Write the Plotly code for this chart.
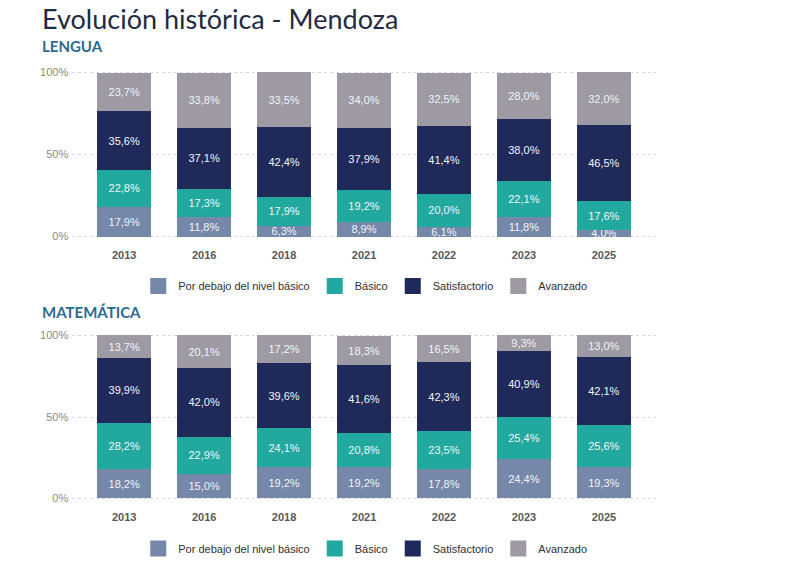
import plotly.graph_objects as go

years = ["2013", "2016", "2018", "2021", "2022", "2023", "2025"]
levels = ["Por debajo del nivel básico", "Básico", "Satisfactorio", "Avanzado"]
colors = ["#7588aa", "#22a99f", "#1f2a5a", "#9d9aa3"]

lengua_debajo = [17.9, 11.8, 6.3, 8.9, 6.1, 11.8, 4.0]
lengua_basico = [22.8, 17.3, 17.9, 19.2, 20.0, 22.1, 17.6]
lengua_satisf = [35.6, 37.1, 42.4, 37.9, 41.4, 38.0, 46.5]
lengua_avanz = [23.7, 33.8, 33.5, 34.0, 32.5, 28.0, 32.0]

mate_debajo = [18.2, 15.0, 19.2, 19.2, 17.8, 24.4, 19.3]
mate_basico = [28.2, 22.9, 24.1, 20.8, 23.5, 25.4, 25.6]
mate_satisf = [39.9, 42.0, 39.6, 41.6, 42.3, 40.9, 42.1]
mate_avanz = [13.7, 20.1, 17.2, 18.3, 16.5, 9.3, 13.0]

y_ticks = [0, 50, 100]
y_ticklabels = ["0%", "50%", "100%"]

def fmt(v):
    return f"{v:.1f}%".replace(".", ",")

fig = go.Figure()

groups = [
    ([lengua_debajo, lengua_basico, lengua_satisf, lengua_avanz], "x", "y", "legend", "L"),
    ([mate_debajo, mate_basico, mate_satisf, mate_avanz], "x2", "y2", "legend2", "M"),
]
for series, xa, ya, lg, key in groups:
    for name, vals, col in zip(levels, series, colors):
        fig.add_trace(go.Bar(
            x=years, y=vals, name=name, marker=dict(color=col, line=dict(width=0)),
            text=[fmt(v) for v in vals], textposition="inside", insidetextanchor="middle",
            constraintext="none", textangle=0,
            textfont=dict(color="#f2f2f6", size=11, family="Liberation Sans"),
            xaxis=xa, yaxis=ya, legendgroup=key + name, showlegend=False,
            width=0.68, hoverinfo="skip",
        ))
    # legend entries with larger square swatches (no visible data)
    for name, col in zip(levels, colors):
        fig.add_trace(go.Scatter(
            x=[None], y=[None], mode="markers", name=name,
            marker=dict(symbol="square", size=16, color=col, line=dict(width=0)),
            xaxis=xa, yaxis=ya, legend=lg, legendgroup=key + name, showlegend=True,
            hoverinfo="skip",
        ))

H = 563.0
def py(px):
    return 1 - px / H

YLO, YHI = -2.0, 102.0
def ydomain(px_zero, px_full):
    ppu = (px_zero - px_full) / 100.0
    bottom = px_zero + (0 - YLO) * ppu
    top = px_full - (YHI - 100) * ppu
    return [py(bottom), py(top)]

xdom = [0.091, 0.826]
axis_common_x = dict(
    type="category", range=[-0.65, 6.65], domain=xdom, showgrid=False, zeroline=False,
    showline=False, ticks="", automargin=False,
    tickfont=dict(family="Liberation Sans", size=11, color="#595959", weight="bold"),
    ticklabelstandoff=7,
)
axis_common_y = dict(
    range=[YLO, YHI], tickvals=y_ticks, ticktext=y_ticklabels, showgrid=True, automargin=False,
    gridcolor="#dadada", griddash="dot", gridwidth=1, zeroline=False, showline=False,
    tickfont=dict(family="Liberation Sans", size=11, color="#8a8a8a"), ticks="",
    ticklabelstandoff=3,
)
legend_font = dict(family="Liberation Sans", size=11, color="#303030")

fig.update_layout(
    width=794, height=563, margin=dict(l=0, r=0, t=0, b=0, pad=0), autosize=False,
    paper_bgcolor="white", plot_bgcolor="white", barmode="stack", bargap=0.32,
    showlegend=True,
    xaxis=dict(**axis_common_x, anchor="y"),
    yaxis=dict(**axis_common_y, domain=ydomain(236.5, 72.5), anchor="x"),
    xaxis2=dict(**axis_common_x, anchor="y2"),
    yaxis2=dict(**axis_common_y, domain=ydomain(498.5, 335.5), anchor="x2"),
    legend=dict(orientation="h", x=0.46, xanchor="center", y=py(286), yanchor="middle",
                font=legend_font, traceorder="normal", itemclick=False, itemsizing="trace"),
    legend2=dict(orientation="h", x=0.46, xanchor="center", y=0.0, yanchor="bottom",
                 font=legend_font, traceorder="normal", itemclick=False, itemsizing="trace"),
    annotations=[
        dict(text="Evolución histórica - Mendoza", x=40 / 794, y=1.0, xref="paper", yref="paper",
             xanchor="left", yanchor="top", showarrow=False,
             font=dict(family="Lato", size=27, color="#1f2a44")),
        dict(text="<b>LENGUA</b>", x=40 / 794, y=py(46), xref="paper", yref="paper",
             xanchor="left", yanchor="middle", showarrow=False,
             font=dict(family="Lato", size=15, color="#2b6a8f")),
        dict(text="<b>MATEMÁTICA</b>", x=40 / 794, y=py(312), xref="paper", yref="paper",
             xanchor="left", yanchor="middle", showarrow=False,
             font=dict(family="Lato", size=15, color="#2b6a8f")),
    ],
)

fig.write_html("out.html")
